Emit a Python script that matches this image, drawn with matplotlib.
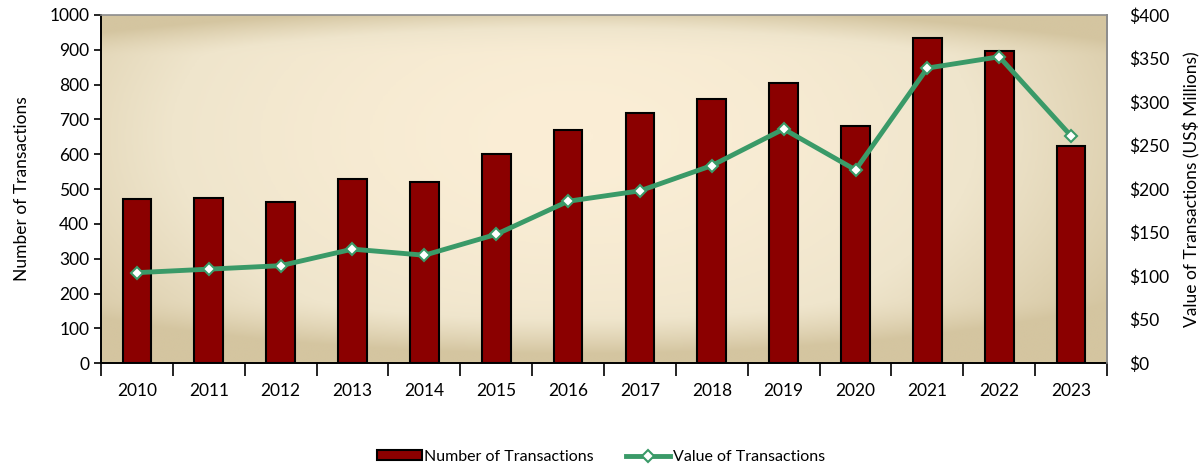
import numpy as np
import matplotlib
matplotlib.use("Agg")
import matplotlib.pyplot as plt
from matplotlib.colors import LinearSegmentedColormap
from matplotlib.ticker import FixedLocator, FuncFormatter

years = ["2010", "2011", "2012", "2013", "2014", "2015", "2016",
         "2017", "2018", "2019", "2020", "2021", "2022", "2023"]
num_transactions = [471, 473, 463, 529, 520, 600, 670, 719, 760, 805, 681, 935, 897, 623]
value_transactions = [104, 108, 112, 131, 124, 148, 186, 198, 227, 269, 222, 339, 352, 261]

BAR_COLOR = "#8B0000"
LINE_COLOR = "#3A9A68"

plt.rcParams["font.family"] = ["Lato", "DejaVu Sans"]
plt.rcParams["font.size"] = 12.5

fig = plt.figure(figsize=(12.02, 4.68), dpi=100)
ax = fig.add_axes([0.084, 0.224, 0.837, 0.744])

# background gradient: light cream centre fading to tan at the edges
nx, ny = 400, 200
gx = np.linspace(0, 1, nx)
gy = np.linspace(0, 1, ny)
X, Y = np.meshgrid(gx, gy)
r = np.sqrt(((X - 0.47) / 0.62) ** 2 + ((Y - 0.35) / 0.95) ** 2)
band = np.clip((Y - 0.82) / 0.18, 0, 1) ** 1.5 * 0.6 + np.clip((0.12 - Y) / 0.12, 0, 1) ** 1.5 * 0.6
shade = np.clip(r ** 1.6 + band, 0, 1)
cmap = LinearSegmentedColormap.from_list("bg", ["#FBEED6", "#EFE5CC", "#D4C5A0"])
ax.imshow(shade, cmap=cmap, extent=[0, 1, 0, 1], transform=ax.transAxes,
          aspect="auto", origin="upper", zorder=0, interpolation="bilinear")

x = np.arange(len(years))
ax.bar(x, num_transactions, width=0.4, color=BAR_COLOR, edgecolor="black",
       linewidth=1.5, zorder=2, label="Number of Transactions")
ax.set_xlim(-0.5, len(years) - 0.5)
ax.set_ylim(0, 1000)
ax.set_yticks(np.arange(0, 1001, 100))
ax.set_ylabel("Number of Transactions", labelpad=14)

ax.set_xticks(x)
ax.set_xticklabels(years)
ax.tick_params(axis="x", which="major", length=0, pad=14)
ax.xaxis.set_minor_locator(FixedLocator(np.arange(-0.5, len(years), 1.0)))
ax.tick_params(axis="x", which="minor", length=9, width=1.2, direction="out")
ax.tick_params(axis="y", length=5, width=1.2, direction="out")

for side in ("top", "right"):
    ax.spines[side].set_color("#8C8C8C")
    ax.spines[side].set_linewidth(1.2)
ax.spines["left"].set_linewidth(1.4)
ax.spines["bottom"].set_linewidth(1.4)

ax2 = ax.twinx()
ax2.plot(x, value_transactions, color=LINE_COLOR, linewidth=3.5, marker="D",
         markersize=6.5, markerfacecolor="white", markeredgecolor=LINE_COLOR,
         markeredgewidth=1.5, zorder=3, label="Value of Transactions")
ax2.set_ylim(0, 400)
ax2.set_yticks(np.arange(0, 401, 50))
ax2.yaxis.set_major_formatter(FuncFormatter(lambda v, p: f"${v:.0f}"))
ax2.tick_params(axis="y", length=0, pad=16)
ax2.set_ylabel("Value of Transactions (US$ Millions)", labelpad=10)
for side in ("top", "left", "bottom"):
    ax2.spines[side].set_visible(False)
ax2.spines["right"].set_color("#8C8C8C")
ax2.spines["right"].set_linewidth(1.2)

h1, l1 = ax.get_legend_handles_labels()
h2, l2 = ax2.get_legend_handles_labels()
fig.legend(h1 + h2, l1 + l2, loc="lower center", bbox_to_anchor=(0.5, -0.022),
           ncol=2, frameon=False, handlelength=2.8, handleheight=0.6,
           handletextpad=0.15, columnspacing=2.0, fontsize=11.5)

fig.savefig("out.png", dpi=100, facecolor="white")
